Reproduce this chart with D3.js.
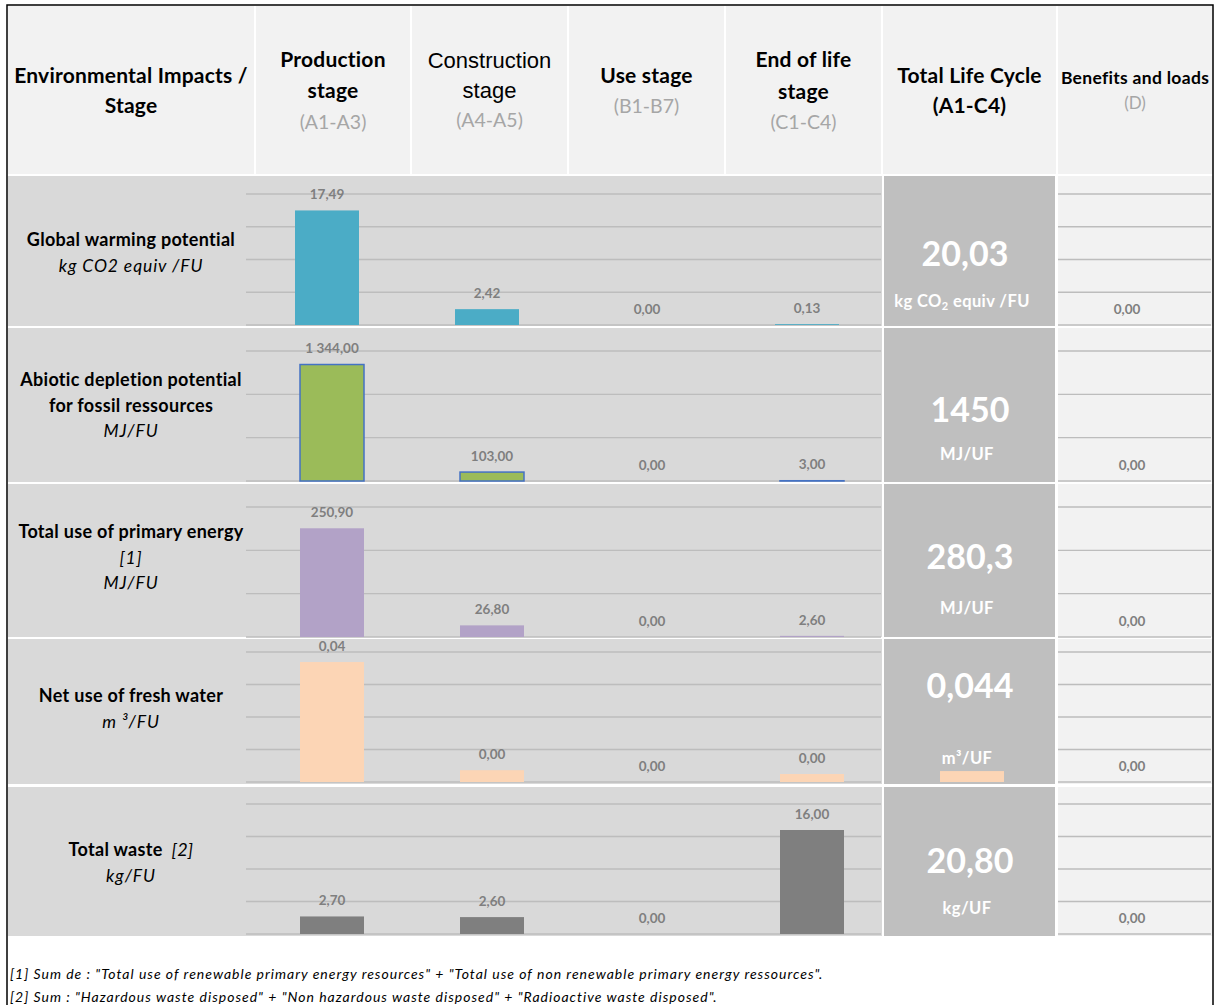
<!DOCTYPE html>
<html>
<head>
<meta charset="utf-8">
<script src="https://cdn.jsdelivr.net/npm/d3@7"></script>
<style>
  body { margin: 0; background: #fff; }
  svg { display: block; font-family: Lato, 'Open Sans', sans-serif; }
</style>
</head>
<body>
<svg id="chart" width="1217" height="1005"></svg>
<script>
// Values read off the reference table
// band order: A1-A3, A4-A5, B1-B7, C1-C4, (behind the total cell), D
const stages = ['A1-A3', 'A4-A5', 'B1-B7', 'C1-C4', 'A1-C4', 'D'];

const gwpValues = [17.49, 2.42, 0, 0.13, null, 0];
const adpValues = [1344, 103, 0, 3, null, 0];
const energyValues = [250.9, 26.8, 0, 2.6, null, 0];
const waterValues = [0.0406, 0.004, 0, 0.0027, 0.0037, 0];
const wasteValues = [2.7, 2.6, 0, 16, null, 0];

const axisMax = [20, 1500, 300, 0.044, 20];
const gridSteps = [5, 500, 100, 0.011, 5];

const totals = ['20,03', '1450', '280,3', '0,044', '20,80'];

const headerTitles = [
  ['Environmental Impacts /', 'Stage'],
  ['Production', 'stage'],
  ['Construction', 'stage'],
  ['Use stage'],
  ['End of life', 'stage'],
  ['Total Life Cycle', '(A1-C4)'],
  ['Benefits and loads']
];
const headerCodes = [null, '(A1-A3)', '(A4-A5)', '(B1-B7)', '(C1-C4)', null, '(D)'];

const indicatorNames = [
  ['Global warming potential'],
  ['Abiotic depletion potential', 'for fossil ressources'],
  ['Total use of primary energy'],
  ['Net use of fresh water'],
  ['Total waste']
];
const indicatorUnits = [
  ['kg CO2 equiv /FU'],
  ['MJ/FU'],
  ['[1]', 'MJ/FU'],
  ['m ³/FU'],
  ['kg/FU']
];
const totalUnits = ['kg CO|2| equiv /FU', 'MJ/UF', 'MJ/UF', 'm³/UF', 'kg/UF'];

const footnotes = [
  '[1] Sum de : "Total use of renewable primary energy resources" + "Total use of non renewable primary energy ressources".',
  '[2] Sum : "Hazardous waste disposed" + "Non hazardous waste disposed" + "Radioactive waste disposed".'
];

// Layout
const rowValues = [gwpValues, adpValues, energyValues, waterValues, wasteValues];
const barColors = ['#4bacc6', '#9bbb59', '#b2a2c7', '#fcd5b5', '#7f7f7f'];
const barStrokes = [null, '#4472c4', null, null, null];
const rows = [
  { top: 176, bottom: 326, plotTop: 194, base: 325, shift: 0, labelY: 240, bigY: 254, unitY: 301 },
  { top: 328, bottom: 482, plotTop: 351, base: 481, shift: 5, labelY: 380, bigY: 410, unitY: 454 },
  { top: 484, bottom: 637, plotTop: 507, base: 637, shift: 5, labelY: 532, bigY: 557, unitY: 608 },
  { top: 639, bottom: 784, plotTop: 652, base: 782, shift: 5, labelY: 696, bigY: 686, unitY: 758 },
  { top: 787, bottom: 936, plotTop: 804, base: 934, shift: 5, labelY: 850, bigY: 861, unitY: 908 }
];
const colEdges = [7, 255, 411, 568, 725, 882, 1057, 1213];
const headerY = [[76, 106], [60, 91, 122], [60, 90, 120], [76, 106], [60, 92, 122], [76, 106], [78, 103]];

const fr = d3.formatLocale({ decimal: ',', thousands: '\u202f', grouping: [3], currency: ['', ''] });
const fmt = fr.format(',.2f');

const svg = d3.select('#chart');

// Header
svg.append('rect')
  .attr('x', 8).attr('y', 6).attr('width', 1205).attr('height', 168)
  .attr('fill', '#f2f2f2');

svg.selectAll('.col-sep')
  .data(colEdges.slice(1, -1))
  .join('rect')
    .attr('class', 'col-sep')
    .attr('x', d => d - 1).attr('y', 6)
    .attr('width', 2).attr('height', 168)
    .attr('fill', '#fff');

headerTitles.forEach((lines, i) => {
  const cx = (colEdges[i] + colEdges[i + 1]) / 2;
  const ys = headerY[i];
  const all = lines.map(t => ({ t, kind: 'title' }));
  if (headerCodes[i]) all.push({ t: headerCodes[i], kind: 'code' });
  all.forEach((d, j) => {
    const txt = svg.append('text')
      .attr('x', cx).attr('y', ys[j]).attr('dy', '0.35em')
      .attr('text-anchor', 'middle')
      .text(d.t);
    if (d.kind === 'code') {
      txt.attr('font-size', i === 6 ? 17 : 19.5).attr('fill', '#a6a6a6');
    } else if (i === 2) {
      txt.attr('font-family', "'Liberation Sans', Arial, sans-serif")
        .attr('font-size', 22).attr('fill', '#000');
    } else {
      txt.attr('font-weight', 'bold')
        .attr('font-size', i === 6 ? 17.5 : 21)
        .attr('letter-spacing', i === 6 ? 0.3 : 0.2)
        .attr('fill', '#000');
    }
  });
});

// Band scale shared by every row (six categories, one per column)
const x = d3.scaleBand()
  .domain(stages)
  .range([247, 1207])
  .paddingInner(0.6)
  .paddingOuter(0.3);

rows.forEach((r, i) => {
  const g = svg.append('g').attr('class', 'impact-row');
  const values = rowValues[i];

  // Backgrounds
  g.append('rect')
    .attr('x', 8).attr('y', r.top).attr('width', 874).attr('height', r.bottom - r.top)
    .attr('fill', '#d9d9d9');
  g.append('rect')
    .attr('x', 1058).attr('y', r.top).attr('width', 155).attr('height', r.bottom - r.top)
    .attr('fill', '#f2f2f2');

  const y = d3.scaleLinear()
    .domain([0, axisMax[i]])
    .range([r.base, r.plotTop]);
  const ticks = d3.range(0, axisMax[i] + gridSteps[i] / 2, gridSteps[i]);

  // Gridlines (two segments, the total cell sits between)
  [[246, 881], [1058, 1211]].forEach(seg => {
    g.selectAll(null)
      .data(ticks)
      .join('line')
        .attr('x1', seg[0]).attr('x2', seg[1])
        .attr('y1', d => y(d)).attr('y2', d => y(d))
        .attr('stroke', '#bdbdbd')
        .attr('stroke-width', 1.3);
  });

  // Total cell
  g.append('rect')
    .attr('x', 884).attr('y', r.top).attr('width', 171).attr('height', r.bottom - r.top)
    .attr('fill', '#bfbfbf');

  // Bars
  const barData = values
    .map((v, k) => ({ stage: stages[k], v, k }))
    .filter(d => d.v !== null && d.v > 0);
  g.selectAll('.bar')
    .data(barData.filter(d => d.k !== 4))
    .join('rect')
      .attr('class', 'bar')
      .attr('x', d => x(d.stage) + r.shift)
      .attr('y', d => y(d.v))
      .attr('width', x.bandwidth())
      .attr('height', d => y(0) - y(d.v))
      .attr('fill', barColors[i])
      .attr('stroke', barStrokes[i] || 'none')
      .attr('stroke-width', 1.5);

  // Value labels
  const labelData = values
    .map((v, k) => ({ stage: stages[k], v, k }))
    .filter(d => d.v !== null && d.k !== 4);
  g.selectAll('.value-label')
    .data(labelData)
    .join('text')
      .attr('class', 'value-label')
      .attr('x', d => x(d.stage) + x.bandwidth() / 2 + r.shift)
      .attr('y', d => y(d.v) - 16)
      .attr('dy', '0.35em')
      .attr('text-anchor', 'middle')
      .attr('font-size', 13.5)
      .attr('font-weight', 'bold')
      .attr('fill', '#7f7f7f')
      .text(d => fmt(d.v));

  // Indicator name and unit
  const nameLines = indicatorNames[i].map(t => ({ t, italic: false }))
    .concat(indicatorUnits[i].map(t => ({ t, italic: true })));
  nameLines.forEach((d, j) => {
    const txt = g.append('text')
      .attr('x', 131).attr('y', r.labelY + j * 25.5).attr('dy', '0.35em')
      .attr('text-anchor', 'middle')
      .attr('font-size', d.italic ? 17.5 : 18)
      .attr('letter-spacing', d.italic ? 0.9 : 0.3)
      .attr('fill', '#000')
      .attr('font-style', d.italic ? 'italic' : 'normal')
      .attr('font-weight', d.italic ? 'normal' : 'bold')
      .text(d.t);
    if (i === 4 && j === 0) {
      txt.append('tspan')
        .attr('dx', 9)
        .attr('font-style', 'italic').attr('font-weight', 'normal')
        .text('[2]');
    }
  });

  // Total value
  const cx = 965 + r.shift;
  g.append('text')
    .attr('x', cx).attr('y', r.bigY).attr('dy', '0.35em')
    .attr('text-anchor', 'middle')
    .attr('font-size', 34).attr('font-weight', 'bold')
    .attr('fill', '#fff')
    .text(totals[i]);

  const unit = g.append('text')
    .attr('x', cx - 3).attr('y', r.unitY).attr('dy', '0.35em')
    .attr('text-anchor', 'middle')
    .attr('font-size', 16.5).attr('font-weight', 'bold')
    .attr('letter-spacing', 0.4)
    .attr('fill', '#fff');
  totalUnits[i].split('|').forEach((part, k) => {
    const ts = unit.append('tspan').text(part);
    if (k === 1) ts.attr('font-size', 11).attr('baseline-shift', '-3');
  });

  // Bar peeking above the total cell (water row)
  g.selectAll('.bar-over')
    .data(barData.filter(d => d.k === 4))
    .join('rect')
      .attr('class', 'bar-over')
      .attr('x', d => x(d.stage) + r.shift)
      .attr('y', d => y(d.v))
      .attr('width', x.bandwidth())
      .attr('height', d => y(0) - y(d.v))
      .attr('fill', barColors[i]);
});

// Footnotes
svg.selectAll('.footnote')
  .data(footnotes)
  .join('text')
    .attr('class', 'footnote')
    .attr('x', 10)
    .attr('y', (d, i) => 974 + i * 23)
    .attr('dy', '0.35em')
    .attr('font-size', 14)
    .attr('letter-spacing', 1)
    .attr('font-style', 'italic')
    .attr('fill', '#000')
    .text(d => d);

// Outer frame
svg.append('path')
  .attr('d', 'M7,1005 V5 H1213 V1005')
  .attr('fill', 'none')
  .attr('stroke', '#000')
  .attr('stroke-width', 1.5);
</script>
</body>
</html>
